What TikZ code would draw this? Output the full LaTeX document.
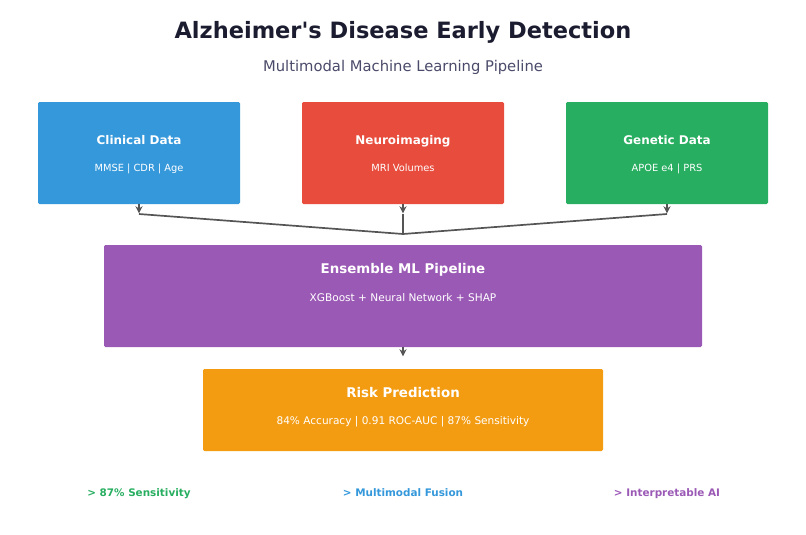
\documentclass[tikz,border=0pt]{standalone}
\usepackage{fontspec}
\setmainfont{DejaVu Sans}[Ligatures=TeXOff]
\usetikzlibrary{arrows.meta}
\definecolor{cblue}{HTML}{3498DB}
\definecolor{cred}{HTML}{E74C3C}
\definecolor{cgreen}{HTML}{27AE60}
\definecolor{cpurple}{HTML}{9B59B6}
\definecolor{corange}{HTML}{F39C12}
\definecolor{ctitle}{HTML}{1C1C30}
\definecolor{csub}{HTML}{4A4A6A}
\definecolor{cline}{HTML}{555555}

\begin{document}
\begin{tikzpicture}[x=0.025cm,y=-0.025cm]
	\tikzstyle{box} = [draw=none, rounded corners=1pt, inner sep=0pt]
	\tikzstyle{even} = [text height=1.5ex, text depth=0.3ex]
	\tikzstyle{head} = [even, text=white, font=\bfseries\fontsize{8.5}{10}\selectfont]
	\tikzstyle{info} = [even, text=white, font=\fontsize{7}{8}\selectfont]
	\tikzstyle{link} = [draw=cline, line width=1.2pt]
	\tikzstyle{flow} = [draw=cline, line width=1.2pt, -{Stealth[length=5pt,width=5pt]}]
	\tikzstyle{perk} = [even, font=\bfseries\fontsize{7.4}{9}\selectfont]

	\useasboundingbox (0,0) rectangle (806,534);

	\node[ctitle, font=\bfseries\fontsize{16}{18}\selectfont] (Title) at (403,32) {Alzheimer's Disease Early Detection};
	\node[csub, font=\fontsize{10.5}{12}\selectfont] (Subtitle) at (403,67) {Multimodal Machine Learning Pipeline};

	\node[box, fill=cblue, minimum width=202*0.025cm, minimum height=102*0.025cm] (Clinical) at (139,153) {};
	\node[box, fill=cred, minimum width=202*0.025cm, minimum height=102*0.025cm] (Imaging) at (403,153) {};
	\node[box, fill=cgreen, minimum width=202*0.025cm, minimum height=102*0.025cm] (Genetic) at (667,153) {};
	\node[box, fill=cpurple, minimum width=598*0.025cm, minimum height=102*0.025cm] (Ensemble) at (403,296) {};
	\node[box, fill=corange, minimum width=400*0.025cm, minimum height=82*0.025cm] (Risk) at (403,410) {};

	\node[head] (ClinicalHead) at (139,140) {Clinical Data};
	\node[info] (ClinicalInfo) at (139,167) {MMSE | CDR | Age};
	\node[head] (ImagingHead) at (403,140) {Neuroimaging};
	\node[info] (ImagingInfo) at (403,167) {MRI Volumes};
	\node[head] (GeneticHead) at (667,140) {Genetic Data};
	\node[info] (GeneticInfo) at (667,167) {APOE e4 | PRS};
	\node[head, font=\bfseries\fontsize{9.5}{11}\selectfont] (EnsembleHead) at (403,269) {Ensemble ML Pipeline};
	\node[info, font=\fontsize{7.5}{9}\selectfont] (EnsembleInfo) at (403,297) {XGBoost + Neural Network + SHAP};
	\node[head, font=\bfseries\fontsize{9.5}{11}\selectfont] (RiskHead) at (403,393) {Risk Prediction};
	\node[info, font=\fontsize{7.5}{9}\selectfont] (RiskInfo) at (403,420) {84\% Accuracy | 0.91 ROC-AUC | 87\% Sensitivity};

	\coordinate (JoinA) at (139,214);
	\coordinate (JoinB) at (403,214);
	\coordinate (JoinC) at (667,214);
	\coordinate (Merge) at (403,234);

	\draw[flow] (Clinical.south) -- ++(0,9);
	\draw[flow] (Imaging.south) -- ++(0,9);
	\draw[flow] (Genetic.south) -- ++(0,9);
	\draw[link] (JoinA) -- (Merge) -- (JoinC);
	\draw[link] (JoinB) -- (Merge);
	\draw[flow] (Ensemble.south) -- ++(0,9);

	\node[perk, cgreen] (Sensitivity) at (139,492) {> 87\% Sensitivity};
	\node[perk, cblue] (Fusion) at (403,492) {> Multimodal Fusion};
	\node[perk, cpurple] (Interpretable) at (667,492) {> Interpretable AI};

\end{tikzpicture}
\end{document}
